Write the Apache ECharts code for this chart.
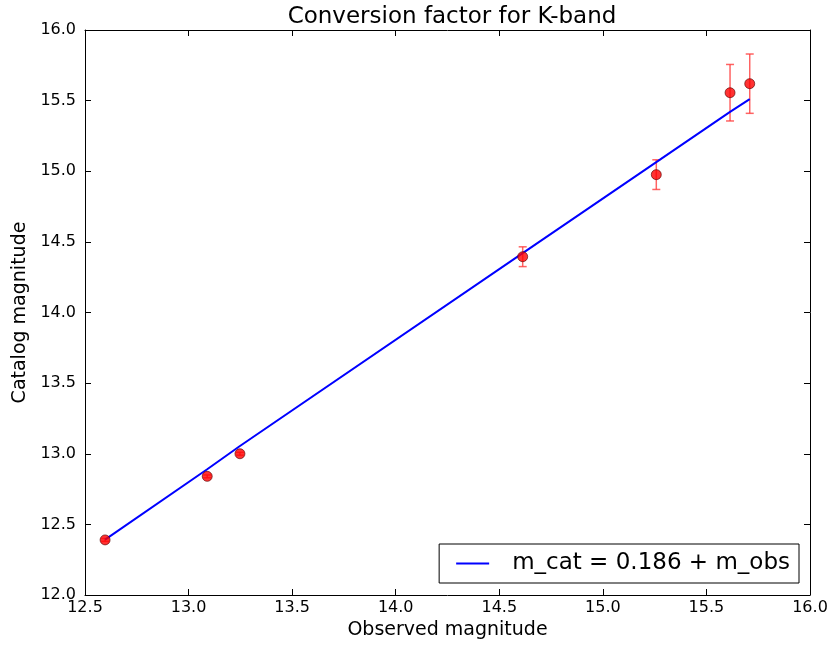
<!DOCTYPE html>
<html><head><meta charset="utf-8">
<script src="https://cdn.jsdelivr.net/npm/echarts@6/dist/echarts.min.js"></script>
<style>html,body{margin:0;padding:0;background:#fff}#c{width:834px;height:646px}</style>
</head><body><div id="c"></div>
<script>
const title = 'Conversion factor for K-band';
const xName = 'Observed magnitude';
const yName = 'Catalog magnitude';
const fitLabel = 'm_cat = 0.186 + m_obs';
const obsMag = [12.597, 13.09, 13.248, 14.613, 15.258, 15.614, 15.709];
const catMag = [12.39, 12.84, 13.00, 14.395, 14.976, 15.556, 15.62];
const catErr = [0.01, 0.01, 0.01, 0.07, 0.105, 0.2, 0.21];
const fitMag = [12.392, 12.89, 13.055, 14.42, 15.065, 15.42, 15.51];

const F = 'DejaVu Sans';
const chart = echarts.init(document.getElementById('c'));
const pts = obsMag.map((x,i)=>[x, catMag[i]]);
const fitPts = obsMag.map((x,i)=>[x, fitMag[i]]);
const errPts = obsMag.map((x,i)=>[x, catMag[i]-catErr[i], catMag[i]+catErr[i]]);
const axCommon = {
  interval: 0.5,
  axisLine: {show:true, lineStyle:{color:'#000', width:1}},
  axisTick: {show:true, inside:true, length:6, lineStyle:{color:'#000'}},
  splitLine: {show:false}
};
chart.setOption({
  animation:false,
  backgroundColor:'#fff',
  title:{text:title, left:447, textAlign:'center', top:1, textStyle:{fontFamily:F, fontSize:23, fontWeight:'normal', color:'#000'}},
  grid:{left:85, right:24, top:30, bottom:51},
  legend:{
    right:35, bottom:63, orient:'horizontal',
    data:[{name:fitLabel, icon:'rect'}],
    itemWidth:33, itemHeight:2,
    borderColor:'#000', borderWidth:1, borderRadius:0,
    padding:[8,9,8,17],
    textStyle:{fontFamily:F, fontSize:23, color:'#000', padding:[0,0,0,18]}
  },
  xAxis:[
    Object.assign({}, axCommon, {type:'value', min:12.5, max:16.0, position:'bottom',
      name:xName, nameLocation:'middle', nameGap:24, nameTextStyle:{fontFamily:F, fontSize:19, color:'#000'},
      axisLabel:{fontFamily:F, fontSize:16, color:'#000', margin:5, formatter:v=>v.toFixed(1)}}),
    Object.assign({}, axCommon, {type:'value', min:12.5, max:16.0, position:'top', axisLabel:{show:false}})
  ],
  yAxis:[
    Object.assign({}, axCommon, {type:'value', min:12.0, max:16.0, position:'left',
      name:yName, nameLocation:'middle', nameGap:52, nameTextStyle:{fontFamily:F, fontSize:19, color:'#000'},
      axisLabel:{fontFamily:F, fontSize:16, color:'#000', margin:9, formatter:v=>v.toFixed(1)}}),
    Object.assign({}, axCommon, {type:'value', min:12.0, max:16.0, position:'right', axisLabel:{show:false}})
  ],
  series:[
    {name:fitLabel, type:'line', data:fitPts, symbol:'none', z:3,
      lineStyle:{color:'#0000ff', width:2}, itemStyle:{color:'#0000ff'}},
    {name:'err', type:'custom', z:2, data:errPts,
      renderItem:function(params, api){
        const x = api.value(0);
        const lo = api.coord([x, api.value(1)]);
        const hi = api.coord([x, api.value(2)]);
        const st = {stroke:'rgba(255,60,60,0.8)', lineWidth:1.5};
        return {type:'group', children:[
          {type:'line', shape:{x1:lo[0], y1:lo[1], x2:hi[0], y2:hi[1]}, style:st},
          {type:'line', shape:{x1:lo[0]-4, y1:lo[1], x2:lo[0]+4, y2:lo[1]}, style:st},
          {type:'line', shape:{x1:hi[0]-4, y1:hi[1], x2:hi[0]+4, y2:hi[1]}, style:st}
        ]};
      }},
    {name:'data', type:'scatter', data:pts, symbol:'circle', symbolSize:10, z:4,
      itemStyle:{color:'#ff0000', borderColor:'#550000', borderWidth:0.8}}
  ]
});
</script></body></html>
